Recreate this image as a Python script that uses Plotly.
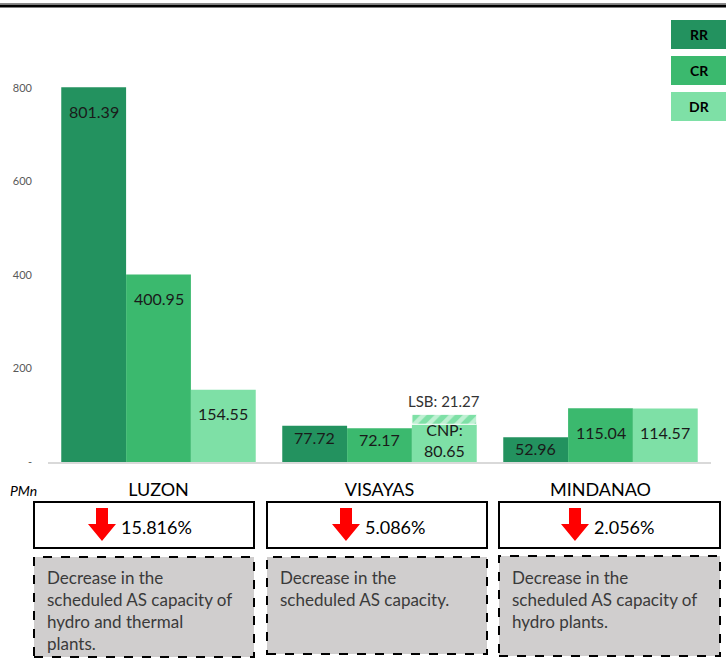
import plotly.graph_objects as go

# ---------------- data ----------------
regions = ["LUZON", "VISAYAS", "MINDANAO"]
series_names = ["RR", "CR", "DR"]
rr = [801.39, 77.72, 52.96]
cr = [400.95, 72.17, 115.04]
dr = [154.55, 80.65, 114.57]          # Visayas DR shown as CNP part
lsb_region = "VISAYAS"
lsb_value = 21.27                      # LSB stacked on Visayas DR
pct_change = ["15.816%", "5.086%", "2.056%"]
notes = [
    ["Decrease in the", "scheduled AS capacity of", "hydro and thermal", "plants."],
    ["Decrease in the", "scheduled AS capacity."],
    ["Decrease in the", "scheduled AS capacity of", "hydro plants."],
]
y_tickvals = [0, 200, 400, 600, 800]
y_ticktext = ["-", "200", "400", "600", "800"]

# ---------------- style / layout constants ----------------
colors = ["#23925F", "#3BB96E", "#7EE0A6"]
FONT = "Lato, 'Open Sans', sans-serif"
W, H = 726, 665
ML, MR, MT, MB = 48, 15, 41, 203
PW, PH = W - ML - MR, H - MT - MB
Y_MAX = 900
BARGAP = 0.12


def px(xp):
    return (xp - ML) / PW


def py(yp):
    return (H - MB - yp) / PH


values = [rr, cr, dr]
fig = go.Figure()
for name, vals, col in zip(series_names, values, colors):
    fig.add_trace(go.Bar(x=regions, y=vals, name=name, marker_color=col,
                         marker_line_width=0, offsetgroup=name, showlegend=False))

fig.add_trace(go.Bar(
    x=[lsb_region], y=[lsb_value], base=[dr[regions.index(lsb_region)]],
    name="LSB", offsetgroup="DR", showlegend=False,
    marker=dict(color=colors[2], line=dict(color="white", width=1),
                pattern=dict(shape="/", fgcolor="white", size=10, solidity=0.45)),
))

annotations = []
shapes = []
ppu = PH / Y_MAX
bw = (1 - BARGAP) / len(series_names)

# bar value labels
for j, (name, vals) in enumerate(zip(series_names, values)):
    for g, v in enumerate(vals):
        xpos = g + (j - 1) * bw
        if name == "DR" and regions[g] == lsb_region:
            annotations.append(dict(x=xpos, y=v, xref="x", yref="y", text=f"CNP:<br>{v:.2f}",
                                    showarrow=False, xanchor="center", yanchor="middle", yshift=-16,
                                    font=dict(size=16, color="#1a1a1a", family=FONT)))
            annotations.append(dict(x=xpos, y=v + lsb_value, xref="x", yref="y",
                                    text=f"LSB: {lsb_value:.2f}", showarrow=False,
                                    xanchor="center", yanchor="bottom", yshift=2,
                                    font=dict(size=15, color="#333333", family=FONT)))
            continue
        h = v * ppu
        off = 24 if h > 48 else max(11, h / 3)
        annotations.append(dict(x=xpos, y=v, xref="x", yref="y", text=f"{v:.2f}",
                                showarrow=False, xanchor="center", yanchor="middle", yshift=-off,
                                font=dict(size=16, color="#1a1a1a", family=FONT)))

# legend boxes
leg_y = [(20, 49), (56, 85), (92, 121)]
for name, col, (y0, y1) in zip(series_names, colors, leg_y):
    shapes.append(dict(type="rect", xref="paper", yref="paper", x0=px(671), x1=px(727),
                       y0=py(y1), y1=py(y0), fillcolor=col, line=dict(width=0)))
    annotations.append(dict(x=px(699), y=py((y0 + y1) / 2), xref="paper", yref="paper",
                            text=f"<b>{name}</b>", showarrow=False,
                            xanchor="center", yanchor="middle",
                            font=dict(size=14, color="black", family=FONT)))

# top rule
shapes.append(dict(type="line", xref="paper", yref="paper", x0=px(0), x1=px(W),
                   y0=py(3.5), y1=py(3.5), line=dict(color="#8a8a8a", width=1)))
shapes.append(dict(type="line", xref="paper", yref="paper", x0=px(0), x1=px(W),
                   y0=py(6), y1=py(6), line=dict(color="black", width=3)))

# PMn
annotations.append(dict(x=px(8), y=py(490), xref="paper", yref="paper", text="<i>PMn</i>",
                        showarrow=False, xanchor="left", yanchor="middle",
                        font=dict(size=14, color="black", family=FONT)))

# boxes below chart
box_x = [(34, 254), (267, 487), (499, 720)]
arrow_left = [88, 332, 561]
note_y = [(557, 657), (557, 654), (556, 656)]
for i in range(3):
    x0, x1 = box_x[i]
    shapes.append(dict(type="rect", xref="paper", yref="paper", x0=px(x0), x1=px(x1),
                       y0=py(548), y1=py(502), fillcolor="white",
                       line=dict(color="black", width=2)))
    ax, ay = arrow_left[i], 508
    pts = [(ax + 8, ay), (ax + 20, ay), (ax + 20, ay + 16), (ax + 28, ay + 16),
           (ax + 14, ay + 33), (ax, ay + 16), (ax + 8, ay + 16)]
    path = "M " + " L ".join(f"{px(a):.5f},{py(b):.5f}" for a, b in pts) + " Z"
    shapes.append(dict(type="path", xref="paper", yref="paper", path=path,
                       fillcolor="#FF0000", line=dict(width=0)))
    annotations.append(dict(x=px(ax + 31), y=py(527), xref="paper", yref="paper",
                            text=pct_change[i], showarrow=False, xanchor="left",
                            yanchor="middle", font=dict(size=18, color="black", family=FONT)))
    ny0, ny1 = note_y[i]
    shapes.append(dict(type="rect", xref="paper", yref="paper", x0=px(x0), x1=px(x1),
                       y0=py(ny1), y1=py(ny0), fillcolor="#D0CECE",
                       line=dict(color="black", width=2, dash="dash")))
    for k, line in enumerate(notes[i]):
        annotations.append(dict(x=px(x0 + 11), y=py(577 + 22 * k), xref="paper", yref="paper",
                                text=line, showarrow=False, xanchor="left", yanchor="middle",
                                font=dict(size=17, color="#3a3a3a", family=FONT)))

fig.update_layout(
    width=W, height=H, autosize=False,
    margin=dict(l=ML, r=MR, t=MT, b=MB, pad=0),
    paper_bgcolor="white", plot_bgcolor="white",
    barmode="group", bargap=BARGAP, bargroupgap=0,
    showlegend=False,
    font=dict(family=FONT),
    shapes=shapes, annotations=annotations,
)
fig.update_xaxes(showline=True, linecolor="#D9D9D9", linewidth=2, showgrid=False,
                 ticks="", tickfont=dict(size=18, color="black", family=FONT),
                 ticklabelstandoff=10, range=[-0.5, 2.5], fixedrange=True)
fig.update_yaxes(range=[0, Y_MAX], tickvals=y_tickvals, ticktext=y_ticktext,
                 showgrid=False, zeroline=False, showline=False,
                 tickfont=dict(size=11, color="#595959", family=FONT),
                 ticklabelstandoff=15, fixedrange=True)

fig.write_html("out.html")
